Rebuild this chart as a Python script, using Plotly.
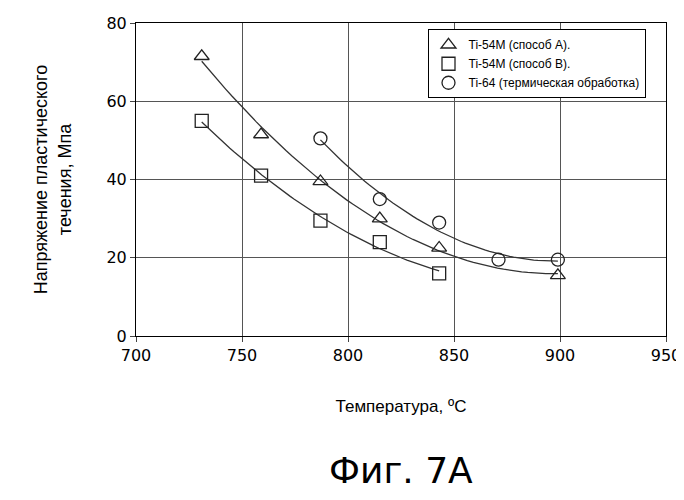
import numpy as np
import plotly.graph_objects as go

tri_x = [731, 759, 787, 815, 843, 899]
tri_y = [71.5, 51.5, 39.5, 30, 22.5, 15.5]
sq_x = [731, 759, 787, 815, 843]
sq_y = [55, 41, 29.5, 24, 16]
circ_x = [787, 815, 843, 871, 899]
circ_y = [50.5, 35, 29, 19.5, 19.5]

names = ["Ti-54M (способ А).", "Ti-54M (способ В).", "Ti-64 (термическая обработка)"]
symbols = ["triangle-up-open", "square-open", "circle-open"]

fig = go.Figure()
for xs, ys, nm, sym in zip([tri_x, sq_x, circ_x], [tri_y, sq_y, circ_y], names, symbols):
    c = np.polyfit(xs, ys, 2)
    xx = np.linspace(min(xs), max(xs), 60)
    fig.add_trace(go.Scatter(x=xx, y=np.polyval(c, xx), mode="lines",
                             line=dict(color="#333", width=1.3), showlegend=False))
    fig.add_trace(go.Scatter(x=xs, y=ys, mode="markers", name=nm,
                             marker=dict(symbol=sym, size=13, color="#222",
                                         line=dict(width=1.3))))

fig.update_layout(
    width=684, height=500, plot_bgcolor="white", paper_bgcolor="white",
    margin=dict(l=128, r=26, t=15, b=172),
    font=dict(family="Liberation Sans", color="black"),
    legend=dict(x=0.55, y=0.98, xanchor="left", yanchor="top",
                bordercolor="black", borderwidth=1, bgcolor="white",
                font=dict(size=12)),
    annotations=[dict(text="Фиг. 7А", x=0.5, xref="paper", y=-0.43, yref="paper",
                      yanchor="middle", showarrow=False,
                      font=dict(size=36, family="DejaVu Sans"))],
)
fig.update_xaxes(range=[700, 950], dtick=50, showgrid=True, gridcolor="#555",
                 showline=True, linecolor="black", mirror=True, ticks="outside",
                 tickfont=dict(size=16, family="DejaVu Sans"), automargin=False,
                 title=dict(text="Температура, ºС", font=dict(size=17), standoff=35))
fig.update_yaxes(range=[0, 80], dtick=20, showgrid=True, gridcolor="#555",
                 showline=True, linecolor="black", mirror=True, ticks="outside",
                 tickfont=dict(size=16, family="DejaVu Sans"), automargin=False,
                 title=dict(text="Напряжение пластического<br>течения, Мпа",
                            font=dict(size=18), standoff=30))
fig.write_html("out.html")
